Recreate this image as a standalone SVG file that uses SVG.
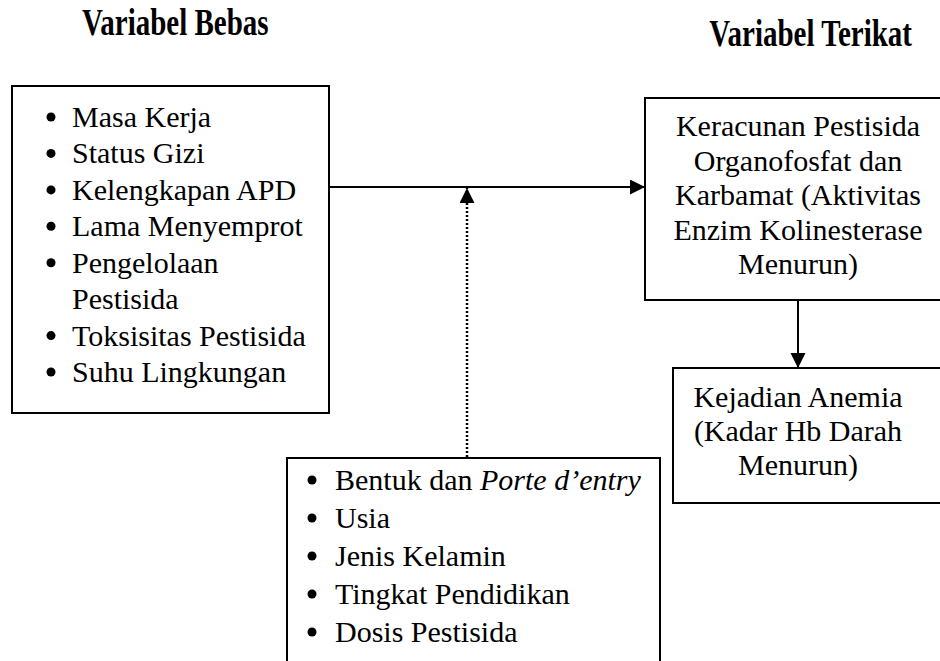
<svg xmlns="http://www.w3.org/2000/svg" width="940" height="661" viewBox="0 0 940 661">
<style>
text{font-family:"Liberation Serif","Times New Roman",serif;fill:#000;font-size:30px}
.t{font-weight:bold;font-size:29px}
.c{text-anchor:middle}
.box{fill:#fff;stroke:#000;stroke-width:2}
.ln{stroke:#000;stroke-width:2;fill:none}
.dot{stroke:#000;stroke-width:2.5;fill:none;stroke-dasharray:2 2}
</style>
<defs>
<marker id="ah" markerUnits="userSpaceOnUse" markerWidth="16" markerHeight="16" refX="15" refY="7.5" orient="auto">
<path d="M0,0 L15,7.5 L0,15 Z" fill="#000"/>
</marker>
</defs>
<rect width="940" height="661" fill="#fff"/>
<g id="title-bebas" transform="translate(82,35) scale(1,1.3)"><text class="t" x="0" y="0">Variabel Bebas</text></g>
<g id="title-terikat" transform="translate(912,46) scale(1,1.3)"><text class="t" x="0" y="0" text-anchor="end">Variabel Terikat</text></g>
<g id="bebas">
<rect class="box" x="12" y="86" width="317" height="327"/>
<g fill="#000">
<circle cx="51" cy="117" r="4.5"/><circle cx="51" cy="153.4" r="4.5"/><circle cx="51" cy="189.9" r="4.5"/><circle cx="51" cy="226.3" r="4.5"/><circle cx="51" cy="262.7" r="4.5"/><circle cx="51" cy="335.6" r="4.5"/><circle cx="51" cy="372" r="4.5"/>
</g>
<text x="72" y="127">Masa Kerja</text>
<text x="72" y="163.4">Status Gizi</text>
<text x="72" y="199.9">Kelengkapan APD</text>
<text x="72" y="236.3">Lama Menyemprot</text>
<text x="72" y="272.7">Pengelolaan</text>
<text x="72" y="309.1">Pestisida</text>
<text x="72" y="345.6">Toksisitas Pestisida</text>
<text x="72" y="382">Suhu Lingkungan</text>
</g>
<g id="keracunan">
<rect class="box" x="645" y="98" width="310" height="202"/>
<text class="c" x="798" y="136">Keracunan Pestisida</text>
<text class="c" x="798" y="170.5">Organofosfat dan</text>
<text class="c" x="798" y="205">Karbamat (Aktivitas</text>
<text class="c" x="798" y="239.5">Enzim Kolinesterase</text>
<text class="c" x="798" y="274">Menurun)</text>
</g>
<g id="anemia">
<rect class="box" x="673" y="368" width="282" height="135"/>
<text class="c" x="798" y="407">Kejadian Anemia</text>
<text class="c" x="798" y="441">(Kadar Hb Darah</text>
<text class="c" x="798" y="475">Menurun)</text>
</g>
<g id="pengganggu">
<rect class="box" x="287" y="458" width="373" height="220"/>
<g fill="#000">
<circle cx="312" cy="480" r="4.5"/><circle cx="312" cy="518" r="4.5"/><circle cx="312" cy="556" r="4.5"/><circle cx="312" cy="594" r="4.5"/><circle cx="312" cy="632" r="4.5"/>
</g>
<text x="335" y="490">Bentuk dan <tspan font-style="italic">Porte d’entry</tspan></text>
<text x="335" y="528">Usia</text>
<text x="335" y="566">Jenis Kelamin</text>
<text x="335" y="604">Tingkat Pendidikan</text>
<text x="335" y="642">Dosis Pestisida</text>
</g>
<g id="connectors">
<line class="ln" x1="329" y1="187" x2="645" y2="187" marker-end="url(#ah)"/>
<line class="dot" x1="467" y1="457" x2="467" y2="188" marker-end="url(#ah)"/>
<line class="ln" x1="798" y1="300" x2="798" y2="368" marker-end="url(#ah)"/>
</g>
</svg>
